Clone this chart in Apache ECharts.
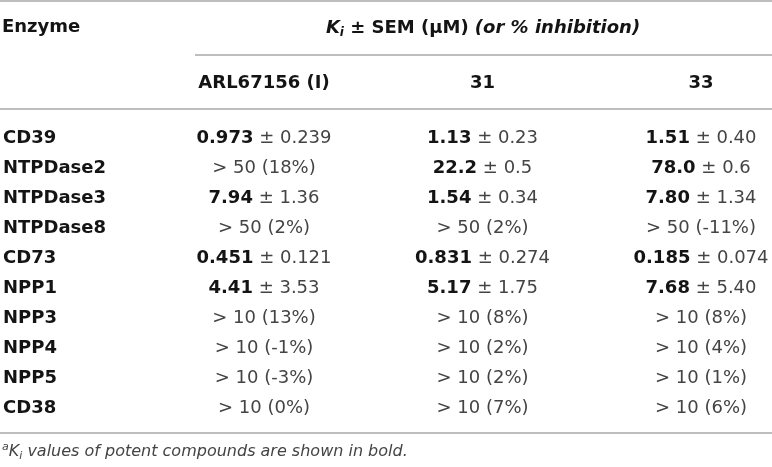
<!DOCTYPE html>
<html lang="en" style="height: 100%">
<head>
  <meta charset="utf-8">
</head>
<body style="height: 100%; margin: 0; background: #fff">
  <div id="container" style="width: 772px; height: 467px"></div>
  <script type="text/javascript" src="https://cdn.jsdelivr.net/npm/echarts@6/dist/echarts.min.js"></script>
  <script type="text/javascript">
    // table content
    var enzymes = ['CD39', 'NTPDase2', 'NTPDase3', 'NTPDase8', 'CD73', 'NPP1', 'NPP3', 'NPP4', 'NPP5', 'CD38'];
    var compounds = ['ARL67156 (I)', '31', '33'];
    // "bold ± sem" for potent values, plain text otherwise
    var arl67156 = ['0.973 ± 0.239', '> 50 (18%)', '7.94 ± 1.36', '> 50 (2%)', '0.451 ± 0.121',
      '4.41 ± 3.53', '> 10 (13%)', '> 10 (-1%)', '> 10 (-3%)', '> 10 (0%)'];
    var cmpd31 = ['1.13 ± 0.23', '22.2 ± 0.5', '1.54 ± 0.34', '> 50 (2%)', '0.831 ± 0.274',
      '5.17 ± 1.75', '> 10 (8%)', '> 10 (2%)', '> 10 (2%)', '> 10 (7%)'];
    var cmpd33 = ['1.51 ± 0.40', '78.0 ± 0.6', '7.80 ± 1.34', '> 50 (-11%)', '0.185 ± 0.074',
      '7.68 ± 5.40', '> 10 (8%)', '> 10 (4%)', '> 10 (1%)', '> 10 (6%)'];
    var columns = [arl67156, cmpd31, cmpd33];

    var FONT = 'DejaVu Sans';
    var DARK = '#141414';
    var GREY = '#444444';
    var RULE = '#a8a8a8';

    var dom = document.getElementById('container');
    var myChart = echarts.init(dom, null, { renderer: 'canvas' });

    function cellText(s) {
      var parts = s.split(' ± ');
      if (parts.length === 2) {
        return '{b|' + parts[0] + '}{n| ± ' + parts[1] + '}';
      }
      return '{n|' + s + '}';
    }

    var series = columns.map(function (col, c) {
      return {
        type: 'scatter',
        name: compounds[c],
        symbolSize: 1,
        itemStyle: { color: 'rgba(0,0,0,0)', opacity: 1 },
        silent: true,
        data: col.map(function (v, r) { return [c, r]; }),
        label: {
          show: true,
          position: 'inside',
          color: DARK,
          opacity: 1,
          textBorderWidth: 0,
          formatter: function (p) { return cellText(col[p.data[1]]); },
          rich: {
            b: { fontFamily: FONT, fontWeight: 'bold', fontSize: 18, color: DARK, textBorderWidth: 0 },
            n: { fontFamily: FONT, fontWeight: 'normal', fontSize: 18, color: GREY, textBorderWidth: 0 }
          }
        }
      };
    });

    function rule(y, x1, x2) {
      return {
        type: 'line',
        silent: true,
        shape: { x1: x1, y1: y, x2: x2, y2: y },
        style: { stroke: RULE, lineWidth: 1.4 }
      };
    }

    var option = {
      backgroundColor: '#ffffff',
      animation: false,
      grid: { left: 263, right: 71, top: 123, bottom: 44 },
      xAxis: {
        type: 'value',
        position: 'top',
        min: 0,
        max: 2,
        interval: 1,
        splitLine: { show: false },
        axisLine: { show: false },
        axisTick: { show: false },
        axisLabel: {
          margin: 31,
          showMinLabel: true,
          showMaxLabel: true,
          fontFamily: FONT,
          fontWeight: 'bold',
          fontSize: 18,
          color: DARK,
          formatter: function (v) { return compounds[v]; }
        }
      },
      yAxis: {
        type: 'category',
        inverse: true,
        data: enzymes,
        axisLine: { show: false },
        axisTick: { show: false },
        splitLine: { show: false },
        axisLabel: {
          interval: 0,
          align: 'left',
          margin: 261,
          fontFamily: FONT,
          fontWeight: 'bold',
          fontSize: 18,
          color: DARK
        }
      },
      graphic: [
        rule(1, 0, 772),
        rule(55, 195, 772),
        rule(109, 0, 772),
        rule(433, 0, 772),
        {
          type: 'text',
          left: 2,
          top: 18,
          style: { text: 'Enzyme', fontFamily: FONT, fontWeight: 'bold', fontSize: 18, fill: DARK }
        },
        {
          type: 'text',
          x: 483,
          y: 28,
          style: {
            text: '{k|K}{s|i}{t| ± SEM (μM) }{it|(or % inhibition)}',
            align: 'center',
            verticalAlign: 'middle',
            rich: {
              k: { fontFamily: FONT, fontWeight: 'bold', fontStyle: 'italic', fontSize: 18, fill: DARK, lineHeight: 22 },
              s: { fontFamily: FONT, fontWeight: 'bold', fontStyle: 'italic', fontSize: 12, fill: DARK, lineHeight: 22, verticalAlign: 'bottom', padding: [6, 0, 0, 0] },
              t: { fontFamily: FONT, fontWeight: 'bold', fontSize: 18, fill: DARK, lineHeight: 22 },
              it: { fontFamily: FONT, fontWeight: 'bold', fontStyle: 'italic', fontSize: 18, fill: DARK, lineHeight: 22 }
            }
          }
        },
        {
          type: 'text',
          x: 2,
          y: 452,
          style: {
            text: '{a|a}{k|K}{s|i}{t| values of potent compounds are shown in bold.}',
            align: 'left',
            verticalAlign: 'middle',
            rich: {
              a: { fontFamily: FONT, fontStyle: 'italic', fontSize: 11, fill: GREY, lineHeight: 20, verticalAlign: 'top' },
              k: { fontFamily: FONT, fontStyle: 'italic', fontSize: 16, fill: GREY, lineHeight: 20 },
              s: { fontFamily: FONT, fontStyle: 'italic', fontSize: 11, fill: GREY, lineHeight: 20, verticalAlign: 'bottom', padding: [5, 0, 0, 0] },
              t: { fontFamily: FONT, fontStyle: 'italic', fontSize: 16, fill: GREY, lineHeight: 20 }
            }
          }
        }
      ],
      series: series
    };

    myChart.setOption(option);
    window.addEventListener('resize', myChart.resize);
  </script>
</body>
</html>
